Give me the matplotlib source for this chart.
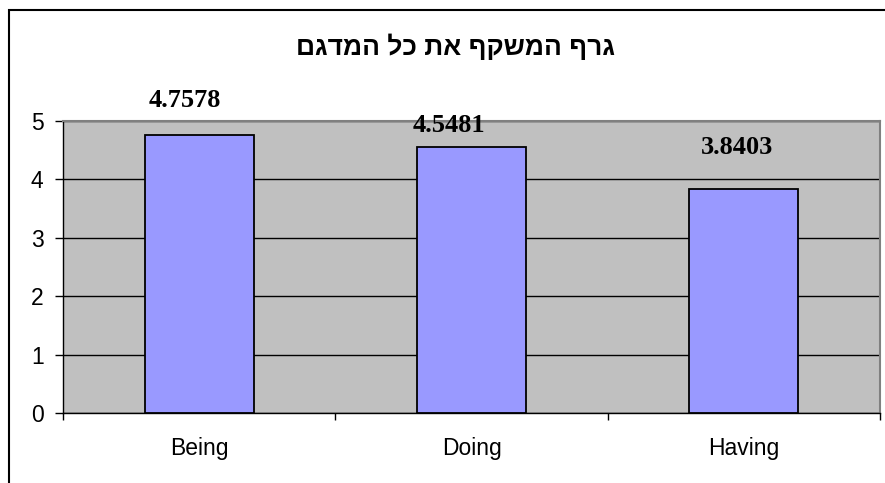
import numpy as np
import matplotlib.pyplot as plt
from matplotlib.patches import Rectangle

# data
categories = ['Being', 'Doing', 'Having']
values = [4.7578, 4.5481, 3.8403]
labels = ['4.7578', '4.5481', '3.8403']
title = 'גרף המשקף את כל המדגם'

# label offsets (points) as excel placed them
label_dx = [-10, -16, -5]
label_dy = [25, 16, 30]

fig = plt.figure(figsize=(8.85, 4.83), dpi=100)
ax = fig.add_axes([63/885, 70/483, 817/885, 292/483])

x = np.arange(len(categories))
ax.bar(x, values, width=0.4, color='#9999FF', edgecolor='black', linewidth=1.3, zorder=3)

ax.set_facecolor('#C0C0C0')
ax.set_xlim(-0.5, 2.5)
ax.set_ylim(0, 5)
ax.set_yticks(range(6))
ax.yaxis.grid(True, color='black', linewidth=1.0, zorder=1)

ax.set_xticks([-0.5, 0.5, 1.5, 2.5])
ax.set_xticklabels([])
ax.set_xticks(x, minor=True)
ax.set_xticklabels(categories, minor=True, fontsize=16.5, family='Liberation Sans')
ax.tick_params(axis='x', which='minor', length=0, pad=17)
ax.tick_params(axis='x', which='major', length=5, width=1)
ax.tick_params(axis='y', length=6, width=1, pad=8, labelsize=16.5)
for t in ax.get_yticklabels():
    t.set_family('Liberation Sans')

for s in ['top', 'right']:
    ax.spines[s].set_color('#808080')
    ax.spines[s].set_linewidth(1.5)
for s in ['left', 'bottom']:
    ax.spines[s].set_color('black')
    ax.spines[s].set_linewidth(1.0)

for i, v in enumerate(values):
    ax.annotate(labels[i], (x[i], v), xytext=(label_dx[i], label_dy[i]),
                textcoords='offset points', ha='center', va='center',
                fontsize=19, fontweight='bold', family='Liberation Serif', zorder=5)

# hebrew is drawn left-to-right, so reverse for visual order
fig.text(456/885, 1 - 47/483, title[::-1], ha='center', va='center',
         fontsize=19, fontweight='bold', family=['Liberation Sans', 'DejaVu Sans'])

# chart border (cut off on right/bottom)
fig.patches.append(Rectangle((9/885, -0.1), 1.0, 1 - 10/483 + 0.1, transform=fig.transFigure,
                             fill=False, edgecolor='black', linewidth=1.5))

fig.savefig('out.png', dpi=100)
